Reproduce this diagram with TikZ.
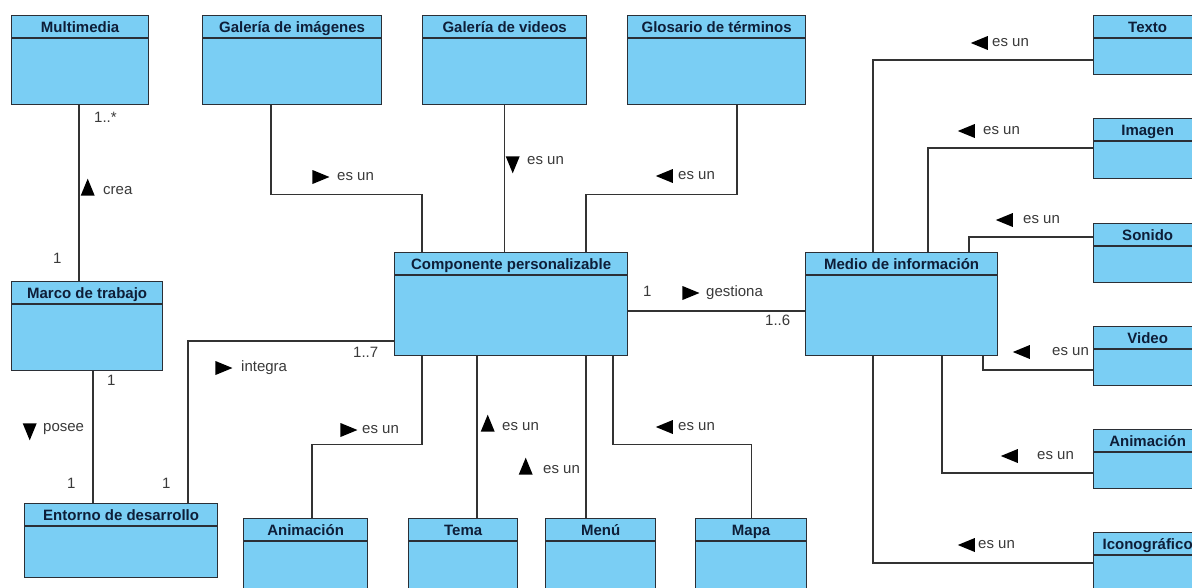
\documentclass[tikz,border=0pt]{standalone}
\usepackage{fontspec}
\setmainfont{Liberation Sans}
\usetikzlibrary{shapes,positioning}
\definecolor{clsfill}{HTML}{7ACEF4}
\definecolor{clsdraw}{HTML}{2B2F36}
\definecolor{clstext}{HTML}{0E1E38}
\definecolor{lbltext}{HTML}{3A3A3A}
\tikzset{cls/.style = {draw=clsdraw, fill=clsfill, rectangle, line width=1.3pt, anchor=north west, inner sep=0pt},
         clstitle/.style = {font=\fontsize{15}{18}\selectfont\bfseries, text=clstext, anchor=base, inner sep=0pt},
         assoc/.style = {draw=black!80, line width=1.2pt},
         lbl/.style = {font=\fontsize{15}{18}\selectfont, text=lbltext, anchor=west, inner sep=0pt, text height=1.5ex, text depth=.25ex},
         dirR/.style = {isosceles triangle, isosceles triangle stretches, fill=black, inner sep=0pt, minimum width=14pt, minimum height=17pt},
         dirL/.style = {dirR, shape border rotate=180},
         dirU/.style = {dirR, shape border rotate=90},
         dirD/.style = {dirR, shape border rotate=270},
}
% name, x, y, width, height, title
\newcommand{\umlclass}[6]{%
  \node[cls, minimum width=#4pt, minimum height=#5pt] (#1) at (#2,#3) {};
  \draw[clsdraw, line width=1.3pt] ([yshift=-23pt]#1.north west) -- ([yshift=-23pt]#1.north east);
  \node[clstitle] (#1-t) at ([yshift=-17pt]#1.north) {#6};
}

\begin{document}
\begin{tikzpicture}[x=1pt, y=-1pt]

  \useasboundingbox (0,0) rectangle (1192,587);
  \fill[white] (0,0) rectangle (1192,587);
  \clip (0,0) rectangle (1192,587);

  % top row
  \umlclass{mult}{11}{15}{137}{89}{Multimedia}
  \umlclass{galimg}{202}{15}{179}{89}{Galería de imágenes}
  \umlclass{galvid}{422}{15}{164}{89}{Galería de videos}
  \umlclass{glos}{627}{15}{178}{89}{Glosario de términos}

  % middle
  \umlclass{comp}{394}{252}{233}{103}{Componente personalizable}
  \umlclass{medio}{805}{252}{192}{103}{Medio de información}
  \umlclass{marco}{11}{281}{151}{89}{Marco de trabajo}
  \umlclass{entorno}{24}{503}{193}{74}{Entorno de desarrollo}

  % bottom row
  \umlclass{anim}{243}{518}{124}{90}{Animación}
  \umlclass{tema}{408}{518}{109}{90}{Tema}
  \umlclass{menu}{545}{518}{110}{90}{Menú}
  \umlclass{mapa}{695}{518}{111}{90}{Mapa}

  % right column
  \umlclass{texto}{1093}{15}{108}{59}{Texto}
  \umlclass{imagen}{1093}{118}{108}{60}{Imagen}
  \umlclass{sonido}{1093}{223}{108}{59}{Sonido}
  \umlclass{video}{1093}{326}{108}{59}{Video}
  \umlclass{animr}{1093}{429}{108}{59}{Animación}
  \umlclass{icono}{1093}{532}{108}{75}{Iconográfico}

  % associations
  \draw[assoc] ([xshift=68pt]mult.south west) -- ([xshift=68pt]marco.north west);
  \draw[assoc] ([xshift=82pt]marco.south west) -- ([xshift=69pt]entorno.north west);
  \draw[assoc] ([xshift=164pt]entorno.north west) |- ([yshift=-89pt]comp.north west);
  \draw[assoc] ([yshift=-59pt]comp.north east) -- ([yshift=-59pt]medio.north west);

  % generalizations of comp
  \draw[assoc] ([xshift=69pt]galimg.south west) -- ++(0,89) -| ([xshift=28pt]comp.north west);
  \draw[assoc] (galvid.south) -- (galvid.south |- comp.north);
  \draw[assoc] ([xshift=110pt]glos.south west) -- ++(0,89) -| ([xshift=192pt]comp.north west);
  \draw[assoc] ([xshift=28pt]comp.south west) -- ++(0,88) -| ([xshift=69pt]anim.north west);
  \draw[assoc] ([xshift=83pt]comp.south west) -- ([xshift=69pt]tema.north west);
  \draw[assoc] ([xshift=192pt]comp.south west) -- ([xshift=41pt]menu.north west);
  \draw[assoc] ([xshift=219pt]comp.south west) -- ++(0,88) -| (mapa.north);

  % generalizations of medio
  \draw[assoc] ([xshift=68pt]medio.north west) |- ([yshift=-45pt]texto.north west);
  \draw[assoc] ([xshift=123pt]medio.north west) |- ([yshift=-30pt]imagen.north west);
  \draw[assoc] ([xshift=164pt]medio.north west) |- ([yshift=-14pt]sonido.north west);
  \draw[assoc] ([xshift=178pt]medio.south west) |- ([yshift=-44pt]video.north west);
  \draw[assoc] ([xshift=137pt]medio.south west) |- ([yshift=-44pt]animr.north west);
  \draw[assoc] ([xshift=68pt]medio.south west) |- ([yshift=-31pt]icono.north west);

  % multiplicities
  \node[lbl] (m-mult) at (94,119) {1..*};
  \node[lbl] (m-marco1) at (53,260) {1};
  \node[lbl] (m-marco2) at (107,382) {1};
  \node[lbl] (m-ent1) at (67,485) {1};
  \node[lbl] (m-ent2) at (162,485) {1};
  \node[lbl] (m-comp1) at (353,354) {1..7};
  \node[lbl] (m-comp2) at (643,293) {1};
  \node[lbl] (m-medio) at (765,322) {1..6};

  % role names
  \node[lbl] (crea) at (103,191) {crea};
  \node[dirU, left=10pt of crea] (crea-dir) {};
  \node[lbl] (posee) at (43,428) {posee};
  \node[dirD, left=8pt of posee] (posee-dir) {};
  \node[lbl] (integra) at (241,368) {integra};
  \node[dirR, left=8pt of integra] (integra-dir) {};
  \node[lbl] (gestiona) at (706,293) {gestiona};
  \node[dirR, left=6pt of gestiona] (gestiona-dir) {};

  \node[lbl] (esun-galimg) at (337,177) {es un};
  \node[dirR, left=7pt of esun-galimg] {};
  \node[lbl] (esun-galvid) at (527,161) {es un};
  \node[dirD, left=9pt of esun-galvid] {};
  \node[lbl] (esun-glos) at (678,176) {es un};
  \node[dirL, left=5pt of esun-glos] {};
  \node[lbl] (esun-anim) at (362,430) {es un};
  \node[dirR, left=4pt of esun-anim] {};
  \node[lbl] (esun-tema) at (502,427) {es un};
  \node[dirU, left=9pt of esun-tema] {};
  \node[lbl] (esun-menu) at (543,470) {es un};
  \node[dirU, left=12pt of esun-menu] {};
  \node[lbl] (esun-mapa) at (678,427) {es un};
  \node[dirL, left=5pt of esun-mapa] {};

  \node[lbl] (esun-texto) at (992,43) {es un};
  \node[dirL, left=4pt of esun-texto] {};
  \node[lbl] (esun-imagen) at (983,131) {es un};
  \node[dirL, left=8pt of esun-imagen] {};
  \node[lbl] (esun-sonido) at (1023,220) {es un};
  \node[dirL, left=10pt of esun-sonido] {};
  \node[lbl] (esun-video) at (1052,352) {es un};
  \node[dirL, left=22pt of esun-video] {};
  \node[lbl] (esun-animr) at (1037,456) {es un};
  \node[dirL, left=19pt of esun-animr] {};
  \node[lbl] (esun-icono) at (978,545) {es un};
  \node[dirL, left=3pt of esun-icono] {};

\end{tikzpicture}
\end{document}
